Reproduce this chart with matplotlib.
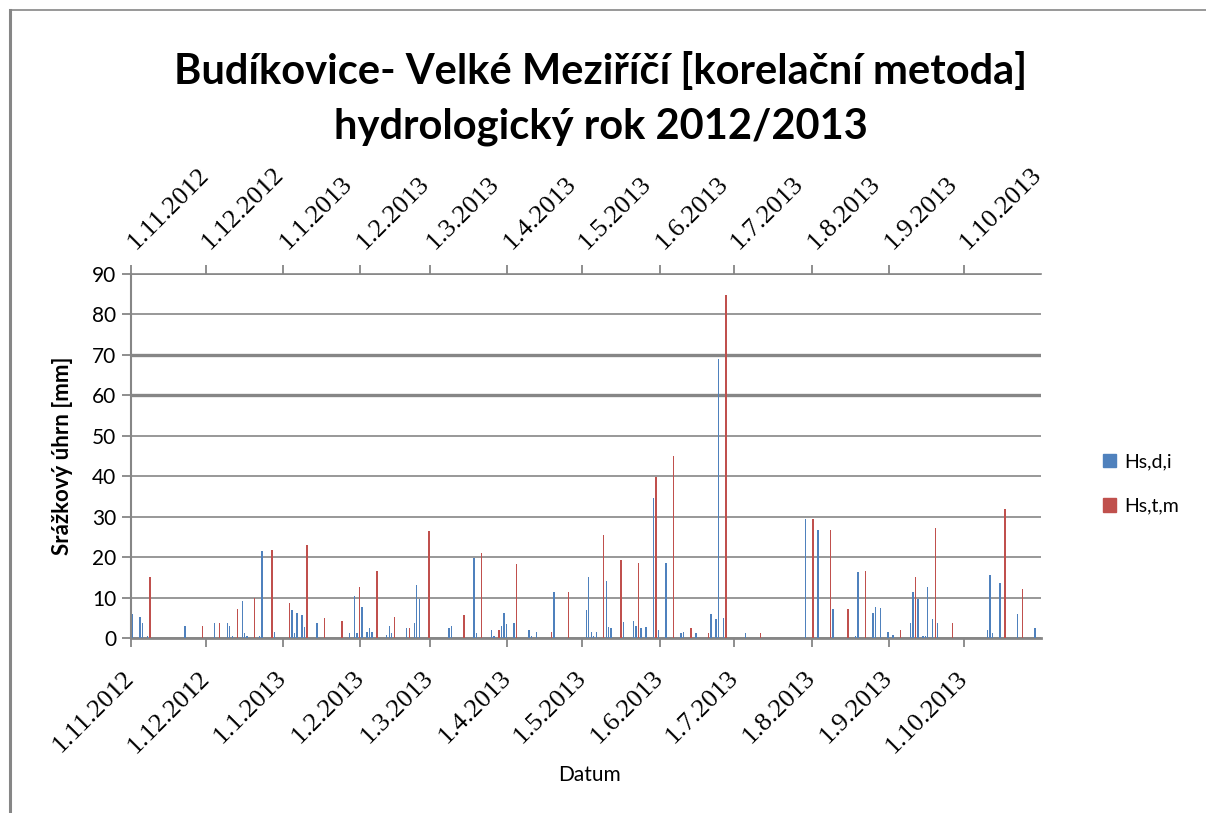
import pandas as pd
import matplotlib
matplotlib.use("Agg")
import matplotlib.pyplot as plt
import matplotlib.dates as mdates
from matplotlib.patches import Patch
from matplotlib.lines import Line2D

# --- DATA (days counted from 1.11.2012, precipitation in mm) ---
START = pd.Timestamp("2012-11-01")

blue_days = [0, 3, 4, 6, 21, 33, 38, 39, 40, 44, 45, 46, 51, 52, 57, 64, 65, 66, 68, 69,
             74, 87, 89, 90, 92, 94, 95, 96, 102, 103, 104, 110, 113, 114, 115, 127, 128,
             137, 138, 144, 145, 148, 149, 150, 153, 159, 160, 162, 169, 182, 183, 184,
             185, 186, 190, 191, 192, 197, 201, 202, 204, 206, 209, 211, 214, 220, 221,
             226, 232, 234, 235, 237, 246, 270, 275, 281, 290, 291, 297, 298, 300, 303,
             305, 312, 313, 315, 317, 318, 319, 321, 323, 343, 344, 345, 348, 355, 362]
blue_vals = [5.9, 5.1, 3.6, 0.4, 2.9, 3.6, 3.6, 2.9, 0.4, 9.1, 1.2, 0.4, 0.4, 21.4, 1.6,
             6.8, 1.2, 6.1, 5.6, 2.6, 3.6, 1.2, 10.3, 1.2, 7.6, 1.4, 2.4, 1.6, 0.7, 2.9,
             1.2, 2.4, 3.6, 13.0, 9.6, 2.4, 2.9, 19.9, 1.2, 1.9, 0.4, 2.9, 6.3, 3.4, 3.6,
             1.9, 0.4, 1.4, 11.3, 6.8, 15.2, 1.6, 0.4, 1.4, 14.0, 2.6, 2.4, 3.9, 4.1, 2.9,
             2.4, 2.6, 34.5, 1.9, 18.5, 1.2, 1.4, 1.2, 5.9, 4.6, 69.1, 4.9, 1.2, 29.3,
             26.6, 7.1, 0.4, 16.2, 6.1, 7.6, 7.4, 1.4, 0.7, 3.6, 11.3, 9.6, 0.4, 0.4, 12.5,
             4.6, 3.6, 1.9, 15.6, 1.2, 13.5, 5.9, 2.4]

red_days = [7, 28, 35, 42, 49, 56, 63, 70, 77, 84, 91, 98, 105, 111, 119, 133, 140, 147,
            154, 168, 175, 189, 196, 203, 210, 217, 224, 231, 238, 252, 273, 280, 287,
            294, 308, 314, 322, 329, 350, 357]
red_vals = [15.2, 2.9, 3.6, 7.1, 9.8, 21.7, 8.6, 22.9, 4.9, 4.1, 12.5, 16.5, 5.1, 2.4,
            26.4, 5.6, 20.9, 1.9, 18.2, 1.4, 11.3, 25.4, 19.4, 18.5, 39.9, 45.1, 2.4, 1.2,
            84.7, 1.2, 29.3, 26.6, 7.1, 16.5, 1.9, 15.0, 27.3, 3.6, 32.0, 12.0]

series_names = ["Hs,d,i", "Hs,t,m"]
month_starts = pd.date_range("2012-11-01", "2013-10-01", freq="MS")
month_labels = [f"{d.day}.{d.month}.{d.year}" for d in month_starts]

BLUE = "#4F81BD"
RED = "#C0504D"
GRID = "#868686"

# --- FIGURE ---
fig = plt.figure(figsize=(12.06, 8.13), dpi=100)
ax = fig.add_axes([131 / 1206, 1 - 638 / 813, 910 / 1206, 364 / 813])

x0 = mdates.date2num(START)
bx = [x0 + d + 0.6 for d in blue_days]
rx = [x0 + d + 0.6 for d in red_days]
ax.bar(bx, blue_vals, width=0.55, color=BLUE, zorder=3)
ax.bar(rx, red_vals, width=0.55, color=RED, zorder=3)

ax.set_xlim(x0, mdates.date2num(pd.Timestamp("2013-11-01")))
ax.set_ylim(0, 90)
ax.set_yticks(range(0, 91, 10))

# gridlines
ax.yaxis.grid(True, color=GRID, linewidth=1.2)
ax.set_axisbelow(True)
for val, gl in zip(range(0, 91, 10), ax.get_ygridlines()):
    if val in (60, 70):
        gl.set_linewidth(2.4)

for side in ("top", "right"):
    ax.spines[side].set_visible(False)
ax.spines["left"].set_color(GRID)
ax.spines["left"].set_linewidth(1.5)
ax.spines["bottom"].set_color(GRID)
ax.spines["bottom"].set_linewidth(2.0)

tick_pos = mdates.date2num(month_starts)
serif = "Liberation Serif"

ax.set_xticks(tick_pos, month_labels, rotation=45, ha="right", va="center",
              rotation_mode="anchor", fontsize=19, family=serif)
ax.tick_params(axis="x", direction="out", length=6.5, width=1.3, color=GRID, pad=20)
ax.tick_params(axis="y", direction="out", length=6.5, width=1.3, color=GRID, pad=4,
               labelsize=15)
for lab in ax.get_yticklabels():
    lab.set_family("Lato")

sec = ax.secondary_xaxis("top")
sec.set_xticks(tick_pos, month_labels, rotation=45, ha="left", va="center",
               rotation_mode="anchor", fontsize=19, family=serif)
sec.tick_params(direction="out", length=6.5, width=1.3, color=GRID, pad=14)
sec.spines["top"].set_color(GRID)
sec.spines["top"].set_linewidth(1.2)

# axis titles
ax.set_ylabel("Srážkový úhrn [mm]", fontsize=16, fontweight="bold", family="Lato")
ax.yaxis.set_label_coords(-0.064, 0.5)
ax.set_xlabel("Datum", fontsize=15, family="Lato")
ax.xaxis.label.set_va("center")
ax.xaxis.set_label_coords(0.504, -0.376)

# title
fig.text(0.498, 1 - 84 / 813, "Budíkovice- Velké Meziříčí [korelační metoda]",
         ha="center", va="baseline", fontsize=30, fontweight="bold", family="Lato")
fig.text(0.498, 1 - 139 / 813, "hydrologický rok 2012/2013",
         ha="center", va="baseline", fontsize=30, fontweight="bold", family="Lato")

# legend
handles = [Patch(color=BLUE), Patch(color=RED)]
ax.legend(handles, series_names, loc="center left",
          bbox_to_anchor=(1085 / 1206, 1 - 484 / 813), bbox_transform=fig.transFigure,
          frameon=False, handlelength=0.7, handleheight=0.7, handletextpad=0.4,
          labelspacing=1.4, prop={"family": "Lato", "size": 14})

# chart area border (only top and left visible)
fig.add_artist(Line2D([10 / 1206, 1], [1 - 10 / 813] * 2, transform=fig.transFigure,
                      color=GRID, linewidth=1.2))
fig.add_artist(Line2D([10 / 1206] * 2, [0, 1 - 10 / 813], transform=fig.transFigure,
                      color=GRID, linewidth=2.2))

fig.savefig("out.png", dpi=100)
